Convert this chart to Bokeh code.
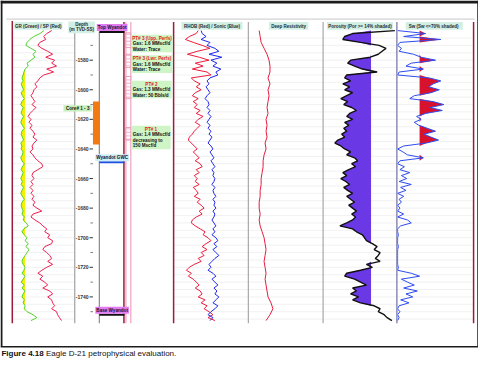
import numpy as np
from bokeh.plotting import figure
from bokeh.models import Range1d, Label, ColumnDataSource
from bokeh.core.properties import value
from bokeh.embed import file_html
from bokeh.resources import INLINE

# ---------------- data ----------------
depth = list(range(-1560, -1758, -2))          # m TVD-SS, 2 m sampling
gr = [78, 68, 52, 42, 35, 32, 45, 58, 50, 55,
      45, 35, 38, 30, 27, 25, 22, 25, 20, 23,
      26, 20, 23, 28, 22, 19, 25, 22, 20, 26,
      22, 19, 23, 28, 22, 20, 23, 26, 19, 22,
      20, 25, 23, 19, 22, 28, 23, 20, 25, 22,
      19, 23, 20, 26, 22, 19, 23, 28, 22, 20,
      22, 25, 22, 28, 25, 33, 38, 27, 22, 28,
      35, 30, 38, 32, 40, 35, 30, 25, 22, 25,
      30, 27, 22, 30, 25, 20, 28, 22, 30, 25,
      22, 28, 25, 30, 28, 35, 50, 60, 45]
sp = [-22, -32, -38, -34, -46, -50, -42, -30, -20, -34,
      -16, -22, -12, -32, -18, -38, -46, -50, -56, -52,
      -58, -60, -64, -60, -56, -62, -54, -60, -66, -70,
      -64, -68, -62, -66, -60, -56, -60, -52, -58, -62,
      -60, -66, -60, -56, -50, -42, -40, -50, -60, -62,
      -58, -64, -60, -66, -60, -64, -58, -62, -56, -60,
      -52, -42, -60, -64, -56, -46, -40, -32, -36, -26,
      -30, -20, -22, -36, -40, -32, -26, -22, -30, -20,
      -32, -42, -50, -40, -46, -36, -30, -40, -26, -20,
      -30, -22, -20, -16, -22, -12, -10, -6, -2]
rhob = [2.21, 2.19, 2.12, 2.08, 2.16, 2.25, 2.33, 2.20, 2.10, 2.22,
        2.32, 2.18, 2.26, 2.15, 2.30, 2.34, 2.14, 2.17, 2.23, 2.19,
        2.24, 2.18, 2.15, 2.21, 2.16, 2.20, 2.17, 2.23, 2.19, 2.26,
        2.21, 2.18, 2.23, 2.20, 2.17, 2.15, 2.12, 2.11, 2.14, 2.17,
        2.20, 2.16, 2.19, 2.22, 2.18, 2.23, 2.25, 2.19, 2.22, 2.17,
        2.20, 2.18, 2.22, 2.16, 2.19, 2.21, 2.17, 2.23, 2.20, 2.24,
        2.27, 2.22, 2.25, 2.19, 2.15, 2.14, 2.18, 2.23, 2.28, 2.26,
        2.31, 2.34, 2.29, 2.25, 2.30, 2.24, 2.27, 2.21, 2.24, 2.17,
        2.12, 2.09, 2.14, 2.11, 2.16, 2.19, 2.22, 2.18, 2.23, 2.25,
        2.21, 2.28, 2.24, 2.30, 2.27, 2.32, 2.36, 2.31, 2.38]
sonic = [126, 125, 121, 126, 117, 120, 112, 108, 118, 105,
         116, 110, 114, 106, 111, 109, 117, 120, 118, 121,
         119, 117, 120, 122, 119, 118, 120, 117, 119, 116,
         118, 120, 117, 119, 116, 118, 115, 117, 119, 116,
         114, 117, 115, 113, 116, 114, 112, 115, 113, 114,
         112, 113, 115, 112, 114, 113, 111, 114, 112, 113,
         111, 114, 112, 113, 115, 113, 111, 114, 112, 115,
         111, 109, 113, 110, 114, 111, 108, 112, 115, 118,
         116, 119, 114, 111, 115, 112, 109, 113, 110, 112,
         108, 111, 114, 109, 112, 116, 119, 114, 117]
res_depth = list(range(-1560, -1758, -4))      # 4 m sampling
res = [2.75, 3.0, 3.25, 4.0, 4.75, 5.25, 5.5, 5.5, 5.0, 5.5,
       5.0, 5.25, 5.0, 4.75, 5.0, 4.5, 4.75, 4.5, 4.75, 4.25,
       4.5, 4.0, 3.75, 3.75, 3.5, 3.25, 3.25, 3.0, 3.0, 2.75,
       2.75, 3.0, 2.75, 3.0, 3.5, 4.0, 4.25, 4.5, 4.25, 4.0,
       4.25, 4.5, 4.25, 4.5, 4.75, 5.0, 5.75, 6.25, 5.5, 4.5]
por = [0.011, 0.240, 0.283, 0.293, 0.197, 0.096, 0.059, 0.080, 0.101, 0.144,
       0.251, 0.267, 0.229, 0.187, 0.107, 0.272, 0.283, 0.251, 0.293, 0.256,
       0.283, 0.240, 0.272, 0.304, 0.267, 0.288, 0.245, 0.219, 0.256, 0.272,
       0.240, 0.283, 0.261, 0.288, 0.272, 0.299, 0.283, 0.320, 0.336, 0.304,
       0.283, 0.251, 0.272, 0.229, 0.213, 0.245, 0.224, 0.261, 0.293, 0.272,
       0.304, 0.277, 0.256, 0.288, 0.267, 0.240, 0.272, 0.251, 0.229, 0.261,
       0.240, 0.219, 0.245, 0.224, 0.240, 0.272, 0.309, 0.240, 0.219, 0.187,
       0.176, 0.165, 0.133, 0.107, 0.123, 0.091, 0.101, 0.117, 0.091, 0.165,
       0.133, 0.197, 0.272, 0.283, 0.229, 0.197, 0.165, 0.240, 0.219, 0.251,
       0.208, 0.240, 0.197, 0.123, 0.091, 0.101, 0.069, 0.053, 0.027]
sw = [0.99, 0.62, 0.91, 0.42, 0.96, 0.99, 0.94, 0.97, 0.78, 0.68,
      0.49, 0.81, 0.88, 0.65, 0.97, 0.99, 0.57, 0.42, 0.52, 0.58,
      0.44, 0.55, 0.77, 0.83, 0.52, 0.38, 0.56, 0.40, 0.62, 0.74,
      0.68, 0.77, 0.71, 0.60, 0.49, 0.64, 0.55, 0.45, 0.61, 0.91,
      0.99, 0.92, 0.86, 0.65, 0.96, 0.99, 0.90, 0.96, 0.83, 0.94,
      0.87, 0.97, 0.81, 0.95, 0.88, 0.99, 0.91, 0.97, 0.94, 0.99,
      0.96, 0.99, 0.91, 0.99, 0.86, 0.81, 0.95, 0.99, 0.99, 0.98,
      0.99, 0.99, 0.99, 0.98, 0.99, 0.99, 0.99, 0.99, 0.99, 0.99,
      0.98, 0.99, 0.81, 0.70, 0.94, 0.86, 0.77, 0.91, 0.73, 0.88,
      0.79, 0.95, 0.84, 0.97, 0.99, 0.96, 0.99, 0.97, 0.99]

GR_CUT = 30.0
POR_CUT = 0.14
SW_CUT = 0.70

depth_ticks = [-1580, -1600, -1620, -1640, -1660, -1680, -1700, -1720, -1740]
depth_tick_labels = ["-1580", "-1600", "-1620", "-1640", "-1660", "-1680", "-1700", "-1720", "-1740"]
depth_minor = [-1570, -1590, -1610, -1630, -1650, -1670, -1690, -1710, -1730, -1750]

tops_names = ["Top Wyandot", "Wyandot GWC", "Base Wyandot"]
tops_depth = [-1561, -1649, -1752]

core_name = "Core# 1 - 3"
core_top = [-1608]
core_base = [-1637]

perf_top = [-1561.5, -1576, -1591, -1625.5]
perf_base = [-1571.5, -1585, -1606, -1634]

test_titles = ["PT# 3 (Upp. Perfs)", "PT# 3 (Lwr. Perfs)", "PT# 2", "PT# 1"]
test_lines = [["Gas: 1.6 MMscf/d", "Water: Trace"],
              ["Gas: 1.6 MMscf/d", "Water: Trace"],
              ["Gas: 1.3 MMscf/d", "Water: 50 Bbls/d"],
              ["Gas: 1.4 MMscf/d", "decreasing to", "150 Mscf/d"]]

caption_bold = "Figure 4.18"
caption_text = "Eagle D-21 petrophysical evaluation."

# ---------------- layout ----------------
W, H = 486, 368          # reference frame units
FONT = "Liberation Sans"
PXM = 1.5125             # units per metre

def track(a, b, v0, v1):
    s = (v1 - v0) / (b - a)
    return Range1d(start=v0 - a * s, end=v0 + (W - a) * s)

p = figure(width=478, height=360, x_range=Range1d(0, W), y_range=Range1d(H, 0),
           output_backend="svg", toolbar_location=None, min_border=0,
           x_axis_location=None, y_axis_location=None)
p.grid.grid_line_color = None
p.outline_line_color = None
p.background_fill_color = "white"
p.border_fill_color = "white"

p.extra_y_ranges = {"depth": Range1d(start=-1580 - (H - 61) / PXM, end=-1580 + 61 / PXM)}
p.extra_x_ranges = {
    "gr": track(13, 73, 0, 150),
    "sp": track(13, 73, -100, 20),
    "rhob": track(180, 250, 2.0, 2.7),
    "dt": track(180, 250, 150, 80),
    "res": track(252, 328, 0, 19),
    "por": track(328, 403, 0.40, 0.0),
    "sw": track(403, 480, 1.0, 0.0),
}

src = ColumnDataSource(dict(
    depth=depth, gr=gr, sp=sp, rhob=rhob, sonic=sonic, por=por, sw=sw,
    gr_fill=np.minimum(gr, GR_CUT), por_fill=np.maximum(por, POR_CUT),
    sw_fill=np.minimum(sw, SW_CUT)))
rsrc = ColumnDataSource(dict(depth=res_depth, res=res))

# frame
p.quad(left=0, right=W, top=0, bottom=3, fill_color="#1c1c1c", line_color=None)
p.segment(x0=[1, 485.5, 0], x1=[1, 485.5, W], y0=[0, 0, 354], y1=[354, 354, 354],
          line_color="#1c1c1c", line_width=[2, 1.5, 1.5])
p.segment(x0=6, x1=482, y0=19, y1=19, line_color="#c8c8c8", line_width=1)

# faint horizontal grid
grid_d = list(range(-1565, -1757, -5))
for x0, x1 in [(12, 75), (176, 481)]:
    p.segment(x0=x0, x1=x1, y0=grid_d, y1=grid_d, y_range_name="depth",
              line_color="#ededed", line_width=0.8)

# fills
p.harea(y="depth", x1="gr_fill", x2=GR_CUT, source=src, x_range_name="gr",
        y_range_name="depth", fill_color="#f4f000")
p.harea(y="depth", x1="por_fill", x2=POR_CUT, source=src, x_range_name="por",
        y_range_name="depth", fill_color="#6a38e4")
p.harea(y="depth", x1="sw_fill", x2=SW_CUT, source=src, x_range_name="sw",
        y_range_name="depth", fill_color="#d8122c")

# curves
p.line("gr", "depth", source=src, x_range_name="gr", y_range_name="depth", line_color="#52d22e", line_width=1)
p.line("sp", "depth", source=src, x_range_name="sp", y_range_name="depth", line_color="#ee2050", line_width=1)
p.line("rhob", "depth", source=src, x_range_name="rhob", y_range_name="depth", line_color="#f01c3c", line_width=1)
p.line("sonic", "depth", source=src, x_range_name="dt", y_range_name="depth", line_color="#2028ee", line_width=1)
p.line("res", "depth", source=rsrc, x_range_name="res", y_range_name="depth", line_color="#e81c40", line_width=1)
p.line("por", "depth", source=src, x_range_name="por", y_range_name="depth", line_color="#111111", line_width=1.4)
p.line("sw", "depth", source=src, x_range_name="sw", y_range_name="depth", line_color="#2f4cf0", line_width=1)

# track boundary lines
vx = [12, 75.5, 100.5, 125.5, 127.5, 132.5, 176, 252, 328, 403, 481]
vy0 = [21, 33, 32, 22, 22, 22, 22, 22, 22, 22, 22]
vc = ["#9c1c3a", "#a0a0a0", "#8a8a8a", "#9c1c3a", "#f2a0c4", "#f2a0c4",
      "#9c1c3a", "#a8a8a8", "#a8a8a8", "#8c8cb8", "#9c1c3a"]
vw = [1.5, 1.2, 1.2, 1.5, 1.2, 1.2, 1.5, 1.2, 1.2, 1.5, 1.5]
p.segment(x0=vx, x1=vx, y0=vy0, y1=330, line_color=vc, line_width=vw)

# perforations
p.quad(left=127.5, right=132.5, top=perf_top, bottom=perf_base, y_range_name="depth",
       fill_color="white", line_color="#e986b0", line_width=0.8,
       hatch_pattern="horizontal_line", hatch_color="#e986b0", hatch_scale=3.5, hatch_weight=0.7)

# core
p.quad(left=94, right=101, top=core_top, bottom=core_base, y_range_name="depth",
       fill_color="#f27a12", line_color=None)

# depth ticks & labels
p.segment(x0=90.5, x1=94, y0=depth_ticks, y1=depth_ticks, y_range_name="depth",
          line_color="#333333", line_width=1)
p.segment(x0=91.5, x1=94, y0=depth_minor, y1=depth_minor, y_range_name="depth",
          line_color="#555555", line_width=0.8)
p.text(x=89.5, y=depth_ticks, text=depth_tick_labels, y_range_name="depth",
       text_font=value(FONT), text_font_size="5px", text_font_style="bold",
       text_color="#333333", text_align="right", text_baseline="middle")

# formation tops
p.segment(x0=100.5, x1=126, y0=tops_depth, y1=tops_depth, y_range_name="depth",
          line_color=["#111111", "#1f4fe0", "#111111"], line_width=2)
tops_bg = ["#e27cf0", "#cdeef4", "#e27cf0"]
for name, d, bg in zip(tops_names, tops_depth, tops_bg):
    p.add_layout(Label(x=113.5, y=d, y_range_name="depth", y_offset=4.5, text=name,
                       text_font=FONT, text_font_size="4.6px", text_font_style="bold",
                       text_color="#101030", text_align="center", text_baseline="middle",
                       background_fill_color=bg, padding=1))

def txt(x, y, s, size="4.6px", color="#111111", align="center", style="bold"):
    p.add_layout(Label(x=x, y=y, text=s, text_font=FONT, text_font_size=size,
                       text_color=color, text_align=align, text_baseline="middle",
                       text_font_style=style))

# header boxes
hdr = [(14, 63, 38.5, 0), (184, 246, 215, 1), (273, 313, 293, 2), (332, 399, 365.5, 3), (412, 470, 441, 4)]
p.quad(left=[h[0] for h in hdr] + [69], right=[h[1] for h in hdr] + [96],
       top=[22] * 5 + [21.5], bottom=[30] * 5 + [33.5], fill_color="#d3efe4", line_color=None)
track_titles = ["GR (Green) / SP (Red)", "RHOB (Red) / Sonic (Blue)", "Deep Resistivity",
                "Porosity (Por >= 14% shaded)", "Sw  (Sw <=70% shaded)"]
for (l, r, cx, k) in hdr:
    txt(cx, 26.2, track_titles[k], size="4.5px", color="#1a2a30")
txt(82.5, 24.8, "Depth", size="4.5px", color="#1a2a30")
txt(82.5, 30.0, "(m TVD-SS)", size="4.5px", color="#1a2a30")

# core label
p.quad(left=64, right=93, top=107, bottom=113.5, fill_color="#c6efbc", line_color=None)
txt(78.5, 110.4, core_name, size="4.6px", color="#102010")

# production test boxes
bx_right = [175, 175, 174, 173]
bx_top = [35, 56, 82, 128]
bx_bot = [53, 74, 100, 152]
p.quad(left=133, right=bx_right, top=bx_top, bottom=bx_bot, fill_color="#cff4c6", line_color=None)
for k in range(4):
    cx = (133 + bx_right[k]) / 2
    txt(cx, bx_top[k] + 3.4, test_titles[k], size="4.6px", color="#e01818")
    for j, line in enumerate(test_lines[k]):
        txt(134.5, bx_top[k] + 9.0 + 5.7 * j, line, size="4.6px", color="#111111", align="left")

# caption
p.add_layout(Label(x=1, y=361, text=caption_bold, text_font=FONT, text_font_size="8px",
                   text_font_style="bold", text_color="#111111", text_baseline="middle"))
p.add_layout(Label(x=1, y=361, x_offset=44.5, text=caption_text, text_font=FONT,
                   text_font_size="8px", text_color="#111111", text_baseline="middle"))

open("out.html", "w").write(file_html(p, INLINE))
